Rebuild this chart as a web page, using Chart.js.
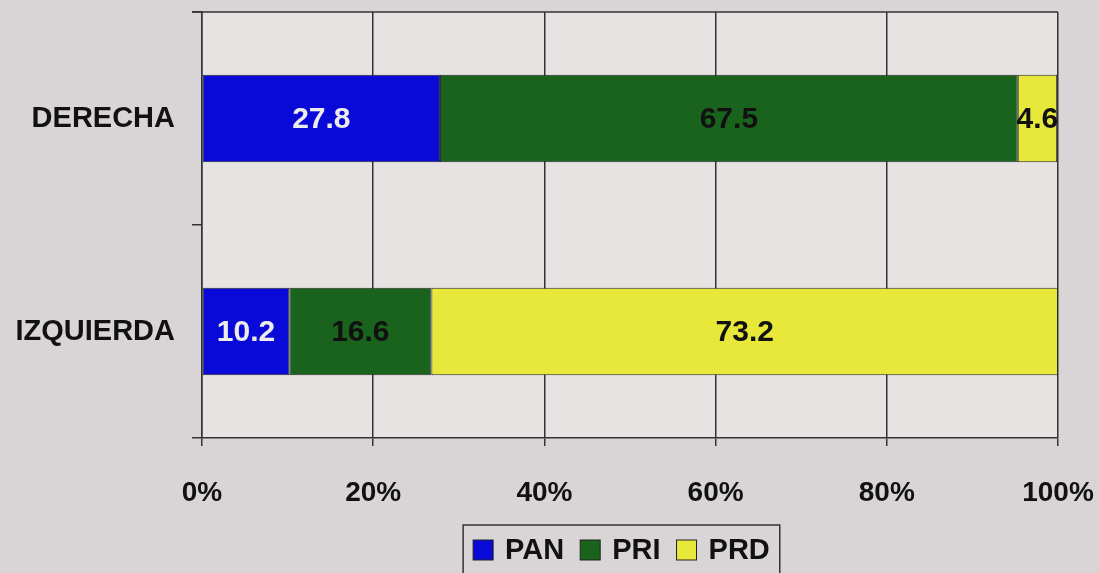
<!DOCTYPE html>
<html>
<head>
<meta charset="utf-8">
<script src="https://cdn.jsdelivr.net/npm/chart.js@4/dist/chart.umd.min.js"></script>
<style>
  html, body { margin: 0; padding: 0; background: #d9d5d6; }
  #wrap { width: 1099px; height: 573px; }
</style>
</head>
<body>
<div id="wrap"><canvas id="myChart" width="1099" height="573"></canvas></div>
<script>
// Datos del gráfico
var categorias = ['DERECHA', 'IZQUIERDA'];
var pan = [27.8, 10.2];
var pri = [67.5, 16.6];
var prd = [4.6, 73.2];
var ticksX = [0, 20, 40, 60, 80, 100];

var FONT = '"Liberation Sans", Arial, sans-serif';

// Quitar el relleno automático de los ejes
function sinRelleno(scale) {
    scale.paddingTop = 0;
    scale.paddingBottom = 0;
    scale.paddingLeft = 0;
    scale.paddingRight = 0;
}

// Fondo del canvas y del área del gráfico
var fondoPlugin = {
    id: 'fondo',
    beforeDraw: function(chart) {
        var ctx = chart.ctx;
        var a = chart.chartArea;
        ctx.save();
        ctx.fillStyle = '#d9d5d6';
        ctx.fillRect(0, 0, chart.width, chart.height);
        ctx.fillStyle = '#e7e3e3';
        ctx.fillRect(a.left, a.top, a.right - a.left, a.bottom - a.top);
        ctx.restore();
    },
    afterDraw: function(chart) {
        var ctx = chart.ctx;
        var a = chart.chartArea;
        ctx.save();
        ctx.strokeStyle = '#333';
        ctx.lineWidth = 1.5;
        ctx.beginPath();
        ctx.moveTo(a.left - 10, a.top);
        ctx.lineTo(a.right, a.top);
        ctx.stroke();
        ctx.restore();
    }
};

// Etiquetas de valores dentro de las barras
var etiquetasPlugin = {
    id: 'etiquetas',
    afterDatasetsDraw: function(chart) {
        var ctx = chart.ctx;
        ctx.save();
        ctx.font = 'bold 30px ' + FONT;
        ctx.textAlign = 'center';
        ctx.textBaseline = 'middle';
        chart.data.datasets.forEach(function(ds, i) {
            var meta = chart.getDatasetMeta(i);
            meta.data.forEach(function(bar, j) {
                ctx.fillStyle = ds.labelColor;
                var x = (bar.x + bar.base) / 2;
                ctx.fillText(ds.data[j].toFixed(1), x, bar.y + 1);
            });
        });
        ctx.restore();
    }
};

// Leyenda con recuadro
var leyendaPlugin = {
    id: 'leyenda',
    afterDraw: function(chart) {
        var ctx = chart.ctx;
        var a = chart.chartArea;
        ctx.save();
        ctx.font = 'bold 29px ' + FONT;
        ctx.textBaseline = 'middle';
        var box = 20, gapTxt = 12, gapItem = 16, pad = 10;
        var total = 0;
        chart.data.datasets.forEach(function(ds, i) {
            total += box + gapTxt + ctx.measureText(ds.label).width;
            if (i > 0) total += gapItem;
        });
        var cx = a.left + (a.right - a.left) * 0.49;
        var x = cx - total / 2;
        var y = 550;
        ctx.strokeStyle = '#333';
        ctx.lineWidth = 1.5;
        ctx.strokeRect(x - pad, 525, total + pad * 2, 60);
        chart.data.datasets.forEach(function(ds) {
            ctx.fillStyle = ds.backgroundColor;
            ctx.fillRect(x, y - box / 2, box, box);
            ctx.strokeStyle = '#222';
            ctx.lineWidth = 1;
            ctx.strokeRect(x, y - box / 2, box, box);
            x += box + gapTxt;
            ctx.fillStyle = '#111';
            ctx.textAlign = 'left';
            ctx.fillText(ds.label, x, y + 1);
            x += ctx.measureText(ds.label).width + gapItem;
        });
        ctx.restore();
    }
};

var ctx = document.getElementById('myChart').getContext('2d');
var myChart = new Chart(ctx, {
    type: 'bar',
    data: {
        labels: categorias,
        datasets: [
            { label: 'PAN', data: pan, backgroundColor: '#0a0ad8', labelColor: '#ececec' },
            { label: 'PRI', data: pri, backgroundColor: '#1a631d', labelColor: '#111' },
            { label: 'PRD', data: prd, backgroundColor: '#e8e83a', labelColor: '#111' }
        ]
    },
    options: {
        indexAxis: 'y',
        responsive: false,
        animation: false,
        layout: { padding: { top: 12, right: 41, left: 0, bottom: 0 } },
        datasets: {
            bar: {
                categoryPercentage: 1,
                barPercentage: 0.41,
                borderWidth: 1,
                borderColor: '#2a2a2a',
                borderSkipped: false
            }
        },
        plugins: {
            legend: { display: false },
            tooltip: { enabled: false }
        },
        scales: {
            x: {
                stacked: true,
                min: 0,
                max: 100,
                afterBuildTicks: function(scale) {
                    scale.ticks = ticksX.map(function(v) { return { value: v }; });
                },
                afterFit: function(scale) { scale.height = 135; sinRelleno(scale); },
                grid: { color: '#333', lineWidth: 1.5, tickLength: 8 },
                border: { color: '#333', width: 1.5 },
                ticks: {
                    padding: 30,
                    color: '#111',
                    font: { family: FONT, size: 28, weight: 'bold' },
                    callback: function(v) { return v + '%'; }
                }
            },
            y: {
                stacked: true,
                afterFit: function(scale) { scale.width = 202; sinRelleno(scale); },
                grid: { display: true, drawOnChartArea: false, offset: true, color: '#333', lineWidth: 1.5, tickLength: 10 },
                border: { color: '#333', width: 1.5 },
                ticks: {
                    padding: 17,
                    color: '#111',
                    font: { family: FONT, size: 29, weight: 'bold' }
                }
            }
        }
    },
    plugins: [fondoPlugin, etiquetasPlugin, leyendaPlugin]
});
</script>
</body>
</html>
